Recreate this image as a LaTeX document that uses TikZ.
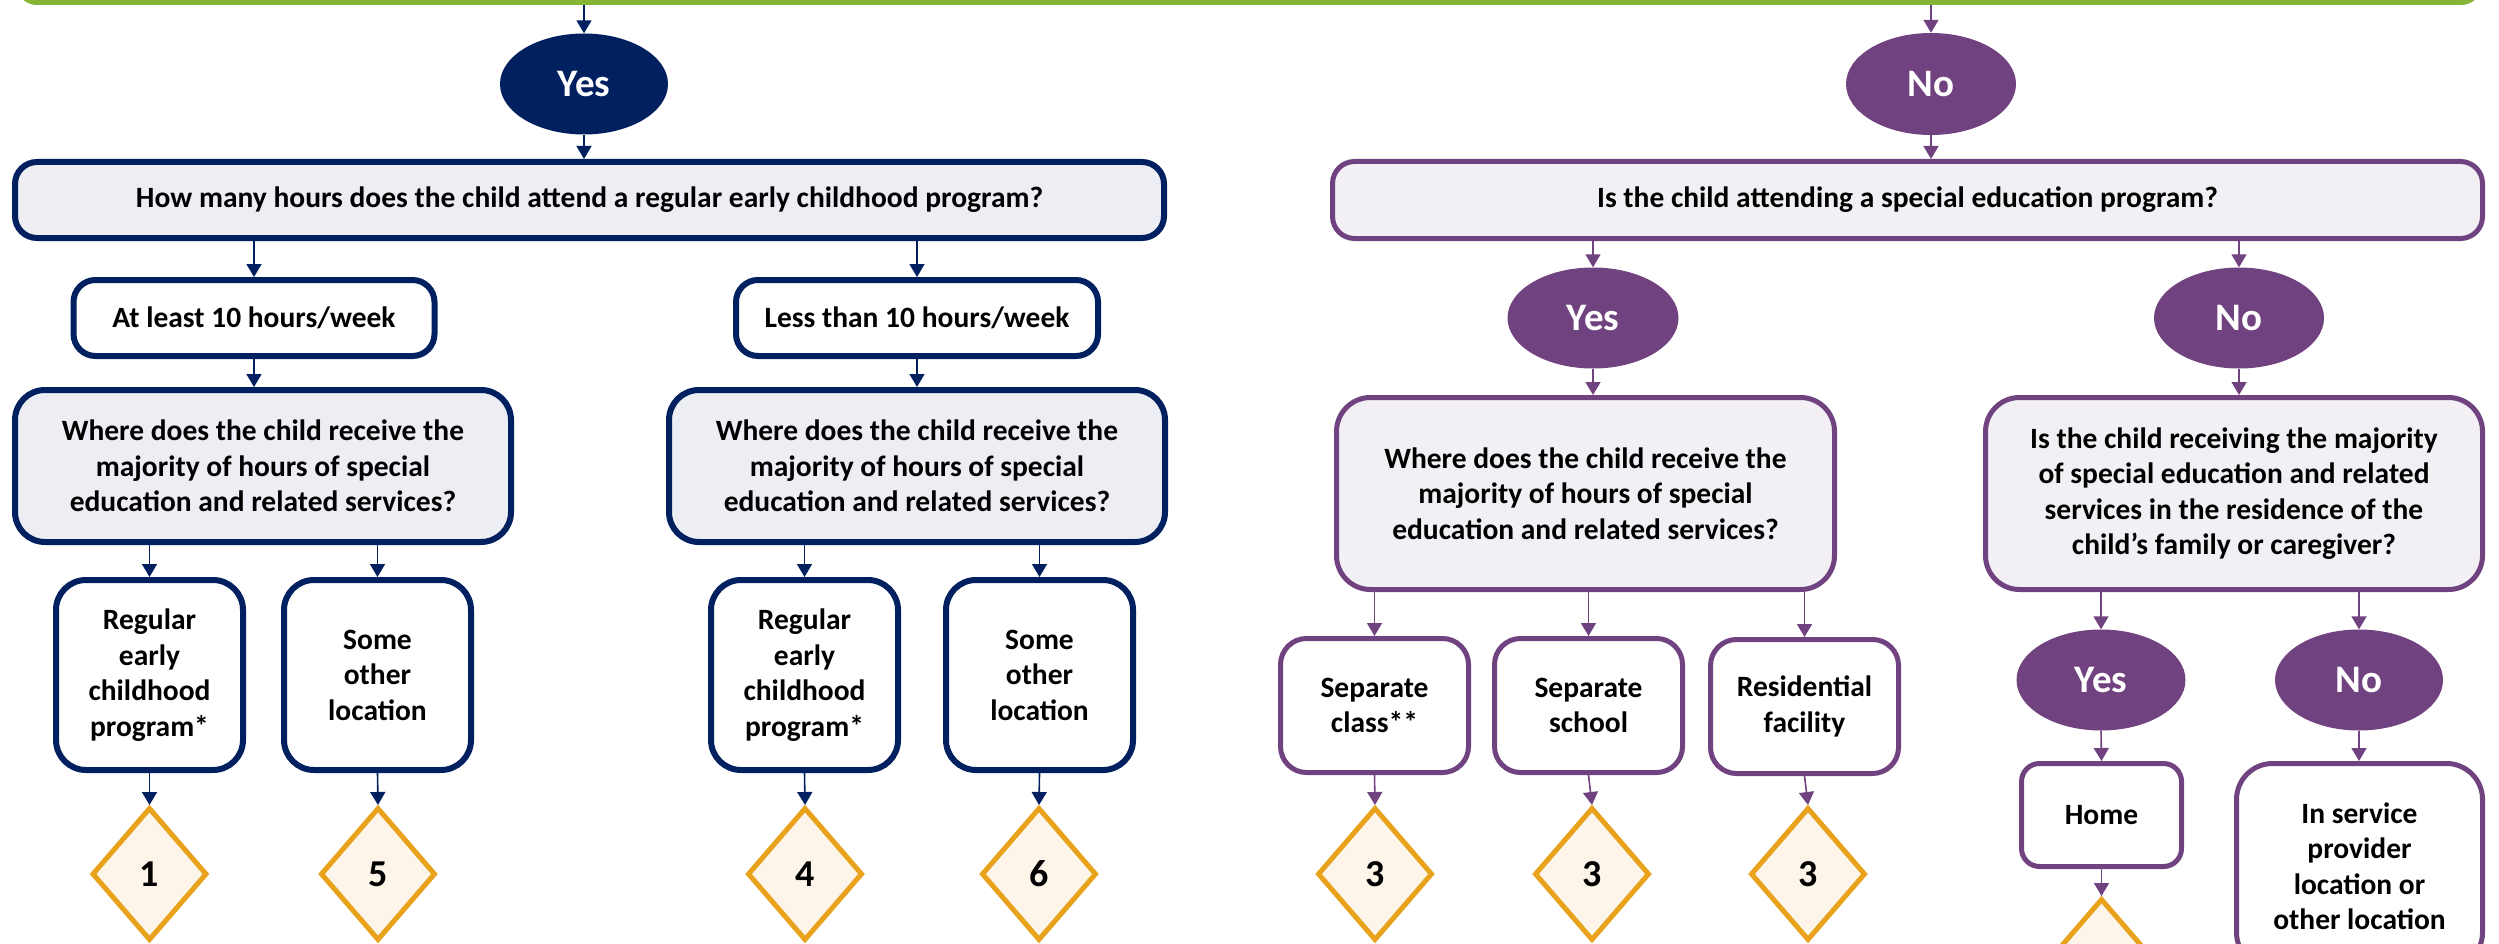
\documentclass[tikz,border=0pt]{standalone}
\usepackage{fontspec}
\setmainfont{Carlito}
\usetikzlibrary{shapes.geometric,arrows.meta}
\definecolor{navy}{HTML}{002060}
\definecolor{purp}{HTML}{70427F}
\definecolor{grn}{HTML}{84B536}
\definecolor{orng}{HTML}{E9A21B}
\definecolor{navyfill}{HTML}{EDEEF4}
\definecolor{purpfill}{HTML}{F2F0F4}
\definecolor{dfill}{HTML}{FDF5E9}
\begin{document}
\begin{tikzpicture}[x=1pt,y=-1pt,
  txt/.style={font=\fontsize{29.5}{35.5}\selectfont\bfseries, align=center, text=black},
  sz/.style 2 args={minimum width=#1pt, minimum height=#2pt},
  nbox/.style={txt, draw=navy, line width=6pt, rounded corners=22pt, inner sep=0pt},
  pbox/.style={txt, draw=purp, line width=5pt, rounded corners=22pt, inner sep=0pt},
  nell/.style={ellipse, fill=navy, text=white, inner sep=0pt, font=\fontsize{39}{44}\selectfont\bfseries},
  pell/.style={ellipse, fill=purp, text=white, inner sep=0pt, font=\fontsize{39}{44}\selectfont\bfseries},
  dia/.style={diamond, draw=orng, fill=dfill, line width=5pt, inner sep=0pt, sz={115}{133}, font=\fontsize{38}{44}\selectfont\bfseries},
  narr/.style={draw=navy, line width=1.6pt, -{Triangle[width=15pt,length=13pt]}},
  parr/.style={draw=purp, line width=1.6pt, -{Triangle[width=15pt,length=13pt]}}
]
\useasboundingbox (0,0) rectangle (2499,944);
\clip (0,0) rectangle (2499,944);

% top bar
\node[draw=grn, line width=6pt, rounded corners=18pt, sz={2460}{100}] (top) at (1249,-48) {};

% ---------- left (Yes) branch ----------
\node[nell, sz={168}{101}] (yes1) at (584,84) {Yes};
\node[nbox, fill=navyfill, sz={1149}{76}] (q1) at (589.5,200) {How many hours does the child attend a regular early childhood program?};
\node[nbox, fill=white, sz={361}{76}] (a1) at (254,318) {At least 10 hours/week};
\node[nbox, fill=white, sz={362}{76}] (a2) at (917,318) {Less than 10 hours/week};
\node[nbox, fill=navyfill, sz={496}{152}, rounded corners=30pt] (w1) at (263,466) {Where does the child receive the\\majority of hours of special\\education and related services?};
\node[nbox, fill=navyfill, sz={496}{152}, rounded corners=30pt] (w2) at (917,466) {Where does the child receive the\\majority of hours of special\\education and related services?};
\node[nbox, fill=white, sz={187}{190}, rounded corners=30pt] (r1) at (149.5,675) {Regular\\early\\childhood\\program*};
\node[nbox, fill=white, sz={187}{190}, rounded corners=30pt] (s1) at (377.5,675) {Some\\other\\location};
\node[nbox, fill=white, sz={187}{190}, rounded corners=30pt] (r2) at (804.5,675) {Regular\\early\\childhood\\program*};
\node[nbox, fill=white, sz={187}{190}, rounded corners=30pt] (s2) at (1039.5,675) {Some\\other\\location};
\node[dia] (d1) at (149.5,874) {1};
\node[dia] (d5) at (378,874) {5};
\node[dia] (d4) at (805,874) {4};
\node[dia] (d6) at (1039,874) {6};

\draw[narr] (top.south -| yes1) -- (yes1.north);
\draw[narr] (yes1.south) -- (yes1.south |- q1.north);
\draw[narr] (q1.south -| a1) -- (a1.north);
\draw[narr] (q1.south -| a2) -- (a2.north);
\draw[narr] (a1.south) -- (a1.south |- w1.north);
\draw[narr] (a2.south) -- (a2.south |- w2.north);
\draw[narr] (w1.south -| r1) -- (r1.north);
\draw[narr] (w1.south -| s1) -- (s1.north);
\draw[narr] (w2.south -| r2) -- (r2.north);
\draw[narr] (w2.south -| s2) -- (s2.north);
\draw[narr] (r1.south) -- (d1.north);
\draw[narr] (s1.south) -- (d5.north);
\draw[narr] (r2.south) -- (d4.north);
\draw[narr] (s2.south) -- (d6.north);

% ---------- right (No) branch ----------
\node[pell, sz={170}{102}] (no1) at (1931,84) {No};
\node[pbox, fill=purpfill, sz={1150}{77}] (q2) at (1907.5,200) {Is the child attending a special education program?};
\node[pell, sz={171}{101}] (yes2) at (1593,318) {Yes};
\node[pell, sz={170}{101}] (no2) at (2239,318) {No};
\node[pbox, fill=purpfill, sz={498}{192}, rounded corners=34pt] (w3) at (1585.5,493.5) {Where does the child receive the\\majority of hours of special\\education and related services?};
\node[pbox, fill=purpfill, sz={497}{192}, rounded corners=34pt] (q3) at (2234,493.5) {Is the child receiving the majority\\of special education and related\\services in the residence of the\\child’s family or caregiver?};
\node[pbox, fill=white, sz={188}{134}, rounded corners=26pt] (sc) at (1374.5,705.5) {Separate\\class**};
\node[pbox, fill=white, sz={188}{134}, rounded corners=26pt] (ss) at (1588.5,705.5) {Separate\\school};
\node[pbox, fill=white, sz={188}{134}, rounded corners=26pt] (rf) at (1804.5,706.5) {Residential\\facility};
\node[dia] (d3a) at (1375,874) {3};
\node[dia] (d3b) at (1592,874) {3};
\node[dia] (d3c) at (1808,874) {3};
\node[pell, sz={169}{101}] (yes3) at (2101,680) {Yes};
\node[pell, sz={168}{101}] (no3) at (2359,680) {No};
\node[pbox, fill=white, sz={160}{103}, rounded corners=18pt] (home) at (2101.5,815) {Home};
\node[pbox, fill=white, sz={246}{205}, rounded corners=36pt] (svc) at (2359.5,866) {In service\\provider\\location or\\other location};
\node[dia] (dh) at (2101.5,965) {};

\draw[parr] (top.south -| no1) -- (no1.north);
\draw[parr] (no1.south) -- (no1.south |- q2.north);
\draw[parr] (q2.south -| yes2) -- (yes2.north);
\draw[parr] (q2.south -| no2) -- (no2.north);
\draw[parr] (yes2.south) -- (yes2.south |- w3.north);
\draw[parr] (no2.south) -- (no2.south |- q3.north);
\draw[parr] (w3.south -| sc) -- (sc.north);
\draw[parr] (w3.south -| ss) -- (ss.north);
\draw[parr] (w3.south -| rf) -- (rf.north);
\draw[parr] (sc.south) -- (d3a.north);
\draw[parr] (ss.south) -- (d3b.north);
\draw[parr] (rf.south) -- (d3c.north);
\draw[parr] (q3.south -| yes3) -- (yes3.north);
\draw[parr] (q3.south -| no3) -- (no3.north);
\draw[parr] (yes3.south) -- (home.north);
\draw[parr] (no3.south) -- (no3.south |- svc.north);
\draw[parr] (home.south) -- (dh.north);
\end{tikzpicture}
\end{document}
